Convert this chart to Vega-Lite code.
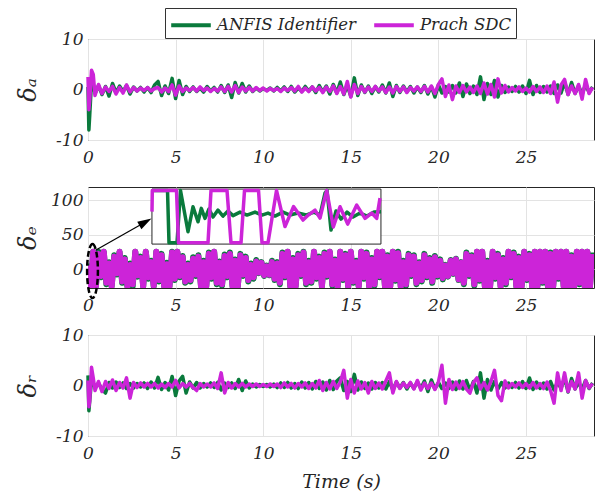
{
"$schema": "https://vega.github.io/schema/vega-lite/v6.json",
"background": "white",
"padding": {"left": 15, "top": 7, "right": 4, "bottom": 0},
"spacing": 47,
"bounds": "flush",
"datasets": {
"A": [
{"t":0,"g":0.5,"m":2.5},{"t":0.05,"g":-8,"m":-4},{"t":0.1,"g":-5,"m":-2},{"t":0.2,"g":1.5,"m":3.8},{"t":0.3,"g":1,"m":3},{"t":0.4,"g":-0.8,"m":-1.2},
{"t":0.6,"g":0.8,"m":1},{"t":0.8,"g":-1,"m":-0.8},{"t":1.0,"g":0.6,"m":0.5},{"t":1.2,"g":-1.3,"m":-0.4},{"t":1.4,"g":1.2,"m":0.6},{"t":1.6,"g":-0.6,"m":-0.9},{"t":1.8,"g":0.7,"m":0.4},{"t":2.0,"g":-0.4,"m":-0.7},{"t":2.2,"g":0.8,"m":0.9},{"t":2.4,"g":-0.9,"m":-0.5},
{"t":2.6,"g":0.5,"m":0.4},{"t":2.8,"g":-0.3,"m":-0.3},{"t":3.0,"g":0.4,"m":0.3},{"t":3.2,"g":-0.5,"m":-0.2},{"t":3.4,"g":0.4,"m":0.4},{"t":3.6,"g":-0.6,"m":-0.3},{"t":3.8,"g":0.9,"m":0.2},{"t":4.0,"g":1.6,"m":0.4},{"t":4.2,"g":-1.2,"m":-0.5},{"t":4.4,"g":0.7,"m":0.3},
{"t":4.6,"g":-0.8,"m":-0.4},{"t":4.8,"g":2.2,"m":0.9},{"t":5.0,"g":-1.8,"m":-1.1},{"t":5.2,"g":1.8,"m":0.7},{"t":5.4,"g":-1.0,"m":-0.4},{"t":5.6,"g":0.6,"m":0.3},{"t":5.8,"g":-0.4,"m":-0.2},{"t":6.0,"g":0.5,"m":0.4},{"t":6.2,"g":-0.4,"m":-0.3},{"t":6.4,"g":0.3,"m":0.5},
{"t":6.6,"g":-0.5,"m":-0.2},{"t":6.8,"g":0.6,"m":0.3},{"t":7.0,"g":-0.3,"m":-0.4},{"t":7.2,"g":0.4,"m":0.2},{"t":7.4,"g":-0.5,"m":-0.3},{"t":7.6,"g":0.8,"m":0.5},{"t":7.8,"g":-0.6,"m":-0.4},{"t":8.0,"g":0.9,"m":0.6},{"t":8.2,"g":-1.6,"m":-0.5},{"t":8.4,"g":1.4,"m":0.8},
{"t":8.6,"g":-0.7,"m":-0.6},{"t":8.8,"g":1.2,"m":0.5},{"t":9.0,"g":-0.5,"m":-0.3},{"t":9.2,"g":0.7,"m":0.4},{"t":9.4,"g":-0.4,"m":-0.3},{"t":9.6,"g":0.3,"m":0.4},{"t":9.8,"g":-0.3,"m":-0.2},{"t":10.0,"g":0.2,"m":0.3},{"t":10.2,"g":-0.2,"m":-0.3},{"t":10.4,"g":0.3,"m":0.2},
{"t":10.6,"g":-0.3,"m":-0.2},{"t":10.8,"g":0.4,"m":0.2},{"t":11.0,"g":-0.3,"m":-0.4},{"t":11.2,"g":0.5,"m":0.3},{"t":11.4,"g":-0.4,"m":-0.2},{"t":11.6,"g":0.6,"m":0.4},{"t":11.8,"g":-0.5,"m":-0.3},{"t":12.0,"g":0.3,"m":0.6},{"t":12.2,"g":-0.4,"m":-0.5},{"t":12.4,"g":0.6,"m":0.3},
{"t":12.6,"g":-0.3,"m":-0.4},{"t":12.8,"g":0.5,"m":0.5},{"t":13.0,"g":-0.6,"m":-0.3},{"t":13.2,"g":0.8,"m":0.4},{"t":13.4,"g":-0.5,"m":-0.6},{"t":13.6,"g":0.7,"m":0.5},{"t":13.8,"g":-0.9,"m":-0.4},{"t":14.0,"g":1.0,"m":0.7},{"t":14.2,"g":-0.7,"m":-0.8},{"t":14.4,"g":1.5,"m":0.6},
{"t":14.6,"g":-1.0,"m":-0.9},{"t":14.8,"g":0.8,"m":1.6},{"t":15.0,"g":-1.4,"m":-1.5},{"t":15.2,"g":2.3,"m":1.0},{"t":15.4,"g":-1.2,"m":-0.8},{"t":15.6,"g":0.9,"m":0.6},{"t":15.8,"g":-0.6,"m":-0.5},{"t":16.0,"g":0.7,"m":0.5},{"t":16.2,"g":-0.8,"m":-0.4},{"t":16.4,"g":0.6,"m":0.6},
{"t":16.6,"g":-0.5,"m":-0.3},{"t":16.8,"g":0.9,"m":0.5},{"t":17.0,"g":-0.7,"m":-0.6},{"t":17.2,"g":1.3,"m":0.5},{"t":17.4,"g":-1.4,"m":-0.7},{"t":17.6,"g":0.8,"m":0.6},{"t":17.8,"g":-0.6,"m":-0.4},{"t":18.0,"g":0.7,"m":0.5},{"t":18.2,"g":-0.5,"m":-0.6},{"t":18.4,"g":0.6,"m":0.4},
{"t":18.6,"g":-0.7,"m":-0.3},{"t":18.8,"g":0.5,"m":0.5},{"t":19.0,"g":-0.6,"m":-0.4},{"t":19.2,"g":0.8,"m":0.6},{"t":19.4,"g":-0.9,"m":-0.5},{"t":19.6,"g":0.6,"m":0.7},{"t":19.8,"g":-1.5,"m":-0.8},{"t":20.0,"g":0.9,"m":1.0},{"t":20.2,"g":-0.7,"m":2.1},{"t":20.4,"g":0.6,"m":-1.4},
{"t":20.6,"g":-0.5,"m":0.9},{"t":20.8,"g":0.8,"m":-2.0},{"t":21.0,"g":-0.7,"m":0.7},{"t":21.2,"g":1.3,"m":-0.6},{"t":21.4,"g":-1.4,"m":0.8},{"t":21.6,"g":1.1,"m":-0.5},{"t":21.8,"g":-0.8,"m":0.5},{"t":22.0,"g":0.7,"m":-0.6},{"t":22.2,"g":-1.0,"m":0.7},{"t":22.4,"g":2.5,"m":-0.8},
{"t":22.6,"g":-2.0,"m":1.3},{"t":22.8,"g":1.2,"m":-0.9},{"t":23.0,"g":-1.0,"m":1.0},{"t":23.2,"g":1.8,"m":-1.5},{"t":23.4,"g":-1.5,"m":2.1},{"t":23.6,"g":0.8,"m":-0.7},{"t":23.8,"g":-0.6,"m":0.8},{"t":24.0,"g":0.5,"m":-0.5},{"t":24.2,"g":-0.4,"m":0.4},{"t":24.4,"g":0.6,"m":-0.3},
{"t":24.6,"g":-0.5,"m":0.5},{"t":24.8,"g":0.7,"m":-0.4},{"t":25.0,"g":-0.8,"m":0.3},{"t":25.2,"g":1.8,"m":-0.5},{"t":25.4,"g":-1.0,"m":0.6},{"t":25.6,"g":0.8,"m":-0.4},{"t":25.8,"g":-0.6,"m":0.5},{"t":26.0,"g":0.6,"m":-0.6},{"t":26.2,"g":-0.5,"m":0.7},{"t":26.4,"g":0.7,"m":-0.8},
{"t":26.6,"g":-0.8,"m":1.5},{"t":26.8,"g":0.9,"m":-2.5},{"t":27.0,"g":-0.7,"m":0.9},{"t":27.2,"g":1.5,"m":2.0},{"t":27.4,"g":-1.0,"m":-1.0},{"t":27.6,"g":1.4,"m":0.7},{"t":27.8,"g":-0.8,"m":-0.8},{"t":28.0,"g":0.7,"m":1.0},{"t":28.2,"g":-0.9,"m":-1.9},{"t":28.4,"g":1.0,"m":2.0},
{"t":28.6,"g":-0.6,"m":-0.8},{"t":28.8,"g":0.5,"m":0.4}
],
"R": [
{"t":0,"g":2,"m":1},{"t":0.05,"g":-5,"m":-4.2},{"t":0.1,"g":-3,"m":-3},{"t":0.2,"g":1,"m":3.6},{"t":0.3,"g":0.5,"m":1.5},{"t":0.4,"g":-0.5,"m":-1},
{"t":0.6,"g":0.5,"m":0.8},{"t":0.8,"g":-0.8,"m":-1.2},{"t":1.0,"g":-1.5,"m":0.8},{"t":1.2,"g":0.6,"m":-0.6},{"t":1.4,"g":-0.5,"m":1.1},{"t":1.6,"g":0.7,"m":-1.0},{"t":1.8,"g":-0.4,"m":0.6},{"t":2.0,"g":0.5,"m":-0.5},{"t":2.2,"g":-0.6,"m":1.5},{"t":2.4,"g":0.4,"m":-2.5},
{"t":2.6,"g":-0.5,"m":0.6},{"t":2.8,"g":0.4,"m":-0.4},{"t":3.0,"g":-0.3,"m":0.5},{"t":3.2,"g":0.5,"m":-0.3},{"t":3.4,"g":-0.6,"m":0.4},{"t":3.6,"g":0.7,"m":-0.3},{"t":3.8,"g":-0.5,"m":0.4},{"t":4.0,"g":1.6,"m":-0.5},{"t":4.2,"g":-0.8,"m":0.3},{"t":4.4,"g":0.6,"m":-0.4},
{"t":4.6,"g":-0.9,"m":0.4},{"t":4.8,"g":1.8,"m":-0.3},{"t":5.0,"g":-2.0,"m":1.0},{"t":5.2,"g":0.9,"m":-0.5},{"t":5.4,"g":1.8,"m":0.4},{"t":5.6,"g":-1.5,"m":-0.3},{"t":5.8,"g":0.7,"m":0.4},{"t":6.0,"g":-0.5,"m":-0.4},{"t":6.2,"g":0.6,"m":-1.0},{"t":6.4,"g":-0.5,"m":0.4},
{"t":6.6,"g":0.4,"m":-0.3},{"t":6.8,"g":-0.3,"m":0.3},{"t":7.0,"g":0.5,"m":-0.3},{"t":7.2,"g":-0.4,"m":0.5},{"t":7.4,"g":0.6,"m":-0.6},{"t":7.6,"g":-0.9,"m":2.5},{"t":7.8,"g":0.5,"m":-1.5},{"t":8.0,"g":-0.4,"m":0.6},{"t":8.2,"g":0.5,"m":-0.5},{"t":8.4,"g":-0.6,"m":0.4},
{"t":8.6,"g":1.2,"m":-0.3},{"t":8.8,"g":-1.0,"m":0.4},{"t":9.0,"g":0.9,"m":-0.3},{"t":9.2,"g":-0.5,"m":0.3},{"t":9.4,"g":0.3,"m":-0.2},{"t":9.6,"g":-0.3,"m":0.3},{"t":9.8,"g":0.2,"m":-0.2},{"t":10.0,"g":-0.2,"m":0.2},{"t":10.2,"g":0.2,"m":-0.2},{"t":10.4,"g":-0.3,"m":0.3},
{"t":10.6,"g":0.3,"m":-0.2},{"t":10.8,"g":-0.4,"m":0.3},{"t":11.0,"g":0.5,"m":-0.4},{"t":11.2,"g":-0.4,"m":0.5},{"t":11.4,"g":0.6,"m":-0.3},{"t":11.6,"g":-0.5,"m":0.4},{"t":11.8,"g":0.4,"m":-0.5},{"t":12.0,"g":-0.6,"m":0.4},{"t":12.2,"g":0.7,"m":-0.3},{"t":12.4,"g":-0.5,"m":0.5},
{"t":12.6,"g":0.6,"m":-0.6},{"t":12.8,"g":-0.7,"m":0.4},{"t":13.0,"g":0.8,"m":-0.5},{"t":13.2,"g":-0.6,"m":1.0},{"t":13.4,"g":0.7,"m":-1.0},{"t":13.6,"g":-0.9,"m":0.6},{"t":13.8,"g":1.0,"m":-0.7},{"t":14.0,"g":-0.8,"m":0.8},{"t":14.2,"g":0.9,"m":-0.6},{"t":14.4,"g":1.5,"m":0.7},
{"t":14.6,"g":-1.0,"m":3.0},{"t":14.8,"g":0.8,"m":-2.5},{"t":15.0,"g":-1.2,"m":1.2},{"t":15.2,"g":2.2,"m":-1.5},{"t":15.4,"g":-0.9,"m":0.9},{"t":15.6,"g":0.7,"m":-0.7},{"t":15.8,"g":-0.6,"m":0.6},{"t":16.0,"g":0.5,"m":-1.5},{"t":16.2,"g":-0.7,"m":0.8},{"t":16.4,"g":0.6,"m":-0.6},
{"t":16.6,"g":-0.5,"m":0.5},{"t":16.8,"g":0.6,"m":-0.7},{"t":17.0,"g":-0.7,"m":0.9},{"t":17.2,"g":0.8,"m":2.5},{"t":17.4,"g":-0.9,"m":-1.5},{"t":17.6,"g":0.7,"m":0.8},{"t":17.8,"g":-0.5,"m":-0.6},{"t":18.0,"g":0.6,"m":0.5},{"t":18.2,"g":-0.7,"m":-0.4},{"t":18.4,"g":0.5,"m":0.6},
{"t":18.6,"g":-0.6,"m":-0.7},{"t":18.8,"g":0.8,"m":1.0},{"t":19.0,"g":-0.6,"m":-0.9},{"t":19.2,"g":0.9,"m":0.5},{"t":19.4,"g":-1.2,"m":-0.6},{"t":19.6,"g":1.1,"m":0.5},{"t":19.8,"g":-0.7,"m":-0.8},{"t":20.0,"g":0.6,"m":0.7},{"t":20.2,"g":-0.6,"m":4.0},{"t":20.4,"g":0.5,"m":-3.5},
{"t":20.6,"g":-0.6,"m":1.2},{"t":20.8,"g":0.7,"m":-0.8},{"t":21.0,"g":-0.8,"m":0.7},{"t":21.2,"g":0.9,"m":-0.6},{"t":21.4,"g":-0.7,"m":0.8},{"t":21.6,"g":1.0,"m":-0.7},{"t":21.8,"g":-1.0,"m":-1.5},{"t":22.0,"g":0.8,"m":0.6},{"t":22.2,"g":-1.5,"m":1.5},{"t":22.4,"g":2.5,"m":-0.7},
{"t":22.6,"g":-2.5,"m":0.6},{"t":22.8,"g":1.2,"m":-0.9},{"t":23.0,"g":-0.9,"m":0.8},{"t":23.2,"g":0.8,"m":3.0},{"t":23.4,"g":-0.7,"m":-2.0},{"t":23.6,"g":0.6,"m":-3.0},{"t":23.8,"g":-0.5,"m":0.9},{"t":24.0,"g":0.5,"m":-0.5},{"t":24.2,"g":-0.4,"m":0.4},{"t":24.4,"g":0.6,"m":-0.3},
{"t":24.6,"g":-0.5,"m":0.5},{"t":24.8,"g":0.8,"m":-0.4},{"t":25.0,"g":-0.6,"m":0.4},{"t":25.2,"g":1.5,"m":-0.5},{"t":25.4,"g":-0.8,"m":0.6},{"t":25.6,"g":0.7,"m":-0.5},{"t":25.8,"g":-0.6,"m":0.4},{"t":26.0,"g":0.5,"m":-0.6},{"t":26.2,"g":-0.7,"m":0.7},{"t":26.4,"g":0.8,"m":-1.0},
{"t":26.6,"g":-0.9,"m":-3.5},{"t":26.8,"g":0.7,"m":2.5},{"t":27.0,"g":-0.6,"m":-1.0},{"t":27.2,"g":1.5,"m":2.5},{"t":27.4,"g":-1.3,"m":-1.2},{"t":27.6,"g":1.4,"m":0.8},{"t":27.8,"g":-0.7,"m":-0.7},{"t":28.0,"g":0.6,"m":2.5},{"t":28.2,"g":-0.8,"m":-2.5},{"t":28.4,"g":1.0,"m":1.0},
{"t":28.6,"g":-0.6,"m":-0.5},{"t":28.8,"g":0.5,"m":0.4}
],
"E": [
{"t":0,"g":8,"m":5},{"t":0.15,"g":-25,"m":-25},{"t":0.3,"g":25,"m":25},{"t":0.45,"g":-25,"m":-25},{"t":0.6,"g":25,"m":22},{"t":0.75,"g":-12,"m":-10},{"t":0.9,"g":25,"m":25},{"t":1.05,"g":-22,"m":-20},{"t":1.2,"g":10,"m":8},{"t":1.35,"g":-25,"m":-25},
{"t":1.5,"g":20,"m":18},{"t":1.65,"g":-8,"m":-6},{"t":1.8,"g":25,"m":25},{"t":1.95,"g":-20,"m":-18},{"t":2.1,"g":16,"m":14},{"t":2.25,"g":-25,"m":-25},{"t":2.4,"g":8,"m":6},{"t":2.55,"g":-25,"m":-22},{"t":2.7,"g":25,"m":25},{"t":2.85,"g":-11,"m":-9},
{"t":3,"g":18,"m":16},{"t":3.15,"g":-25,"m":-25},{"t":3.3,"g":25,"m":25},{"t":3.45,"g":-14,"m":-12},{"t":3.6,"g":12,"m":10},{"t":3.75,"g":-25,"m":-24},{"t":3.9,"g":25,"m":25},{"t":4.05,"g":-18,"m":-16},{"t":4.2,"g":22,"m":20},{"t":4.35,"g":-25,"m":-25},
{"t":4.5,"g":9,"m":7},{"t":4.65,"g":-25,"m":-25},{"t":4.8,"g":25,"m":24},{"t":4.95,"g":-16,"m":-14},{"t":5.1,"g":25,"m":25},{"t":5.25,"g":-12,"m":-10},{"t":5.4,"g":19,"m":17},{"t":5.55,"g":-20,"m":-18},{"t":5.7,"g":8,"m":6},{"t":5.85,"g":-18,"m":-16},
{"t":6,"g":17,"m":15},{"t":6.15,"g":-10,"m":-8},{"t":6.3,"g":20,"m":18},{"t":6.45,"g":-25,"m":-25},{"t":6.6,"g":12,"m":10},{"t":6.75,"g":-25,"m":-25},{"t":6.9,"g":24,"m":22},{"t":7.05,"g":-14,"m":-12},{"t":7.2,"g":25,"m":25},{"t":7.35,"g":-22,"m":-20},
{"t":7.5,"g":11,"m":9},{"t":7.65,"g":-24,"m":-22},{"t":7.8,"g":21,"m":19},{"t":7.95,"g":-12,"m":-10},{"t":8.1,"g":24,"m":22},{"t":8.25,"g":-25,"m":-25},{"t":8.4,"g":14,"m":12},{"t":8.55,"g":-25,"m":-25},{"t":8.7,"g":22,"m":20},{"t":8.85,"g":-10,"m":-8},
{"t":9,"g":18,"m":16},{"t":9.15,"g":-18,"m":-16},{"t":9.3,"g":8,"m":6},{"t":9.45,"g":-14,"m":-12},{"t":9.6,"g":13,"m":11},{"t":9.75,"g":-6,"m":-5},{"t":9.9,"g":10,"m":9},{"t":10.05,"g":-10,"m":-9},{"t":10.2,"g":5,"m":4},{"t":10.35,"g":-9,"m":-8},
{"t":10.5,"g":12,"m":10},{"t":10.65,"g":-16,"m":-14},{"t":10.8,"g":10,"m":8},{"t":10.95,"g":-22,"m":-20},{"t":11.1,"g":24,"m":22},{"t":11.25,"g":-12,"m":-10},{"t":11.4,"g":25,"m":25},{"t":11.55,"g":-25,"m":-25},{"t":11.7,"g":16,"m":14},{"t":11.85,"g":-25,"m":-25},
{"t":12,"g":22,"m":20},{"t":12.15,"g":-10,"m":-8},{"t":12.3,"g":25,"m":24},{"t":12.45,"g":-22,"m":-20},{"t":12.6,"g":12,"m":10},{"t":12.75,"g":-20,"m":-18},{"t":12.9,"g":25,"m":25},{"t":13.05,"g":-14,"m":-12},{"t":13.2,"g":18,"m":16},{"t":13.35,"g":-25,"m":-25},
{"t":13.5,"g":24,"m":22},{"t":13.65,"g":-11,"m":-9},{"t":13.8,"g":25,"m":25},{"t":13.95,"g":-24,"m":-22},{"t":14.1,"g":14,"m":12},{"t":14.25,"g":-25,"m":-25},{"t":14.4,"g":25,"m":25},{"t":14.55,"g":-16,"m":-14},{"t":14.7,"g":22,"m":20},{"t":14.85,"g":-25,"m":-25},
{"t":15,"g":25,"m":25},{"t":15.15,"g":-20,"m":-18},{"t":15.3,"g":12,"m":10},{"t":15.45,"g":-25,"m":-25},{"t":15.6,"g":25,"m":25},{"t":15.75,"g":-14,"m":-12},{"t":15.9,"g":24,"m":22},{"t":16.05,"g":-25,"m":-25},{"t":16.2,"g":16,"m":14},{"t":16.35,"g":-24,"m":-22},
{"t":16.5,"g":25,"m":25},{"t":16.65,"g":-12,"m":-10},{"t":16.8,"g":25,"m":25},{"t":16.95,"g":-25,"m":-25},{"t":17.1,"g":20,"m":18},{"t":17.25,"g":-25,"m":-25},{"t":17.4,"g":25,"m":25},{"t":17.55,"g":-17,"m":-15},{"t":17.7,"g":25,"m":23},{"t":17.85,"g":-25,"m":-25},
{"t":18,"g":12,"m":10},{"t":18.15,"g":-24,"m":-22},{"t":18.3,"g":22,"m":20},{"t":18.45,"g":-10,"m":-8},{"t":18.6,"g":20,"m":18},{"t":18.75,"g":-22,"m":-20},{"t":18.9,"g":10,"m":8},{"t":19.05,"g":-18,"m":-16},{"t":19.2,"g":22,"m":20},{"t":19.35,"g":-12,"m":-10},
{"t":19.5,"g":16,"m":14},{"t":19.65,"g":-20,"m":-18},{"t":19.8,"g":19,"m":17},{"t":19.95,"g":-11,"m":-9},{"t":20.1,"g":14,"m":12},{"t":20.25,"g":-15,"m":-13},{"t":20.4,"g":6,"m":5},{"t":20.55,"g":-11,"m":-10},{"t":20.7,"g":13,"m":12},{"t":20.85,"g":-7,"m":-6},
{"t":21,"g":15,"m":14},{"t":21.15,"g":-16,"m":-15},{"t":21.3,"g":10,"m":9},{"t":21.45,"g":-22,"m":-20},{"t":21.6,"g":24,"m":22},{"t":21.75,"g":-10,"m":-8},{"t":21.9,"g":20,"m":18},{"t":22.05,"g":-24,"m":-22},{"t":22.2,"g":25,"m":25},{"t":22.35,"g":-17,"m":-15},
{"t":22.5,"g":25,"m":25},{"t":22.65,"g":-25,"m":-25},{"t":22.8,"g":12,"m":10},{"t":22.95,"g":-25,"m":-25},{"t":23.1,"g":25,"m":25},{"t":23.25,"g":-14,"m":-12},{"t":23.4,"g":22,"m":20},{"t":23.55,"g":-25,"m":-25},{"t":23.7,"g":16,"m":14},{"t":23.85,"g":-22,"m":-20},
{"t":24,"g":25,"m":25},{"t":24.15,"g":-12,"m":-10},{"t":24.3,"g":24,"m":22},{"t":24.45,"g":-25,"m":-25},{"t":24.6,"g":18,"m":16},{"t":24.75,"g":-25,"m":-25},{"t":24.9,"g":25,"m":25},{"t":25.05,"g":-16,"m":-14},{"t":25.2,"g":22,"m":20},{"t":25.35,"g":-25,"m":-25},
{"t":25.5,"g":25,"m":25},{"t":25.65,"g":-25,"m":-25},{"t":25.8,"g":25,"m":25},{"t":25.95,"g":-20,"m":-18},{"t":26.1,"g":25,"m":25},{"t":26.25,"g":-25,"m":-25},{"t":26.4,"g":24,"m":22},{"t":26.55,"g":-25,"m":-25},{"t":26.7,"g":25,"m":25},{"t":26.85,"g":-14,"m":-12},
{"t":27,"g":25,"m":25},{"t":27.15,"g":-25,"m":-25},{"t":27.3,"g":25,"m":25},{"t":27.45,"g":-25,"m":-25},{"t":27.6,"g":20,"m":18},{"t":27.75,"g":-25,"m":-25},{"t":27.9,"g":25,"m":25},{"t":28.05,"g":-22,"m":-20},{"t":28.2,"g":25,"m":25},{"t":28.35,"g":-25,"m":-25},
{"t":28.5,"g":25,"m":25},{"t":28.65,"g":-25,"m":-25},{"t":28.8,"g":24,"m":22}
],
"I": [
{"s":"g","t":3.653,"v":114},{"s":"g","t":4.538,"v":114},{"s":"g","t":4.623,"v":38},{"s":"g","t":5.08,"v":38},{"s":"g","t":5.28,"v":114},{"s":"g","t":5.708,"v":54.1},{"s":"g","t":5.993,"v":90.3},{"s":"g","t":6.279,"v":68.6},{"s":"g","t":6.467,"v":88.0},{"s":"g","t":6.678,"v":73.5},
{"s":"g","t":6.906,"v":87.0},{"s":"g","t":7.135,"v":75.4},{"s":"g","t":7.42,"v":85.5},{"s":"g","t":7.705,"v":76.8},{"s":"g","t":7.991,"v":84.1},{"s":"g","t":8.276,"v":77.5},{"s":"g","t":8.676,"v":82.6},{"s":"g","t":9.075,"v":78.3},{"s":"g","t":9.532,"v":82.6},{"s":"g","t":9.932,"v":78.3},
{"s":"g","t":10.274,"v":81.2},{"s":"g","t":10.674,"v":76.8},{"s":"g","t":11.13,"v":82.6},{"s":"g","t":11.53,"v":78.3},{"s":"g","t":11.986,"v":81.2},{"s":"g","t":12.443,"v":78.3},{"s":"g","t":12.9,"v":82.6},{"s":"g","t":13.242,"v":78.3},{"s":"g","t":13.527,"v":110.1},{"s":"g","t":13.642,"v":114},
{"s":"g","t":13.87,"v":56.5},{"s":"g","t":14.155,"v":84.1},{"s":"g","t":14.441,"v":72.5},{"s":"g","t":14.783,"v":82.6},{"s":"g","t":15.125,"v":75.4},{"s":"g","t":15.525,"v":81.2},{"s":"g","t":15.925,"v":76.8},{"s":"g","t":16.324,"v":82.6},{"s":"g","t":16.724,"v":83.0},
{"s":"m","t":3.653,"v":83.3},{"s":"m","t":3.67,"v":114},{"s":"m","t":5.051,"v":114},{"s":"m","t":5.166,"v":38},{"s":"m","t":6.849,"v":38},{"s":"m","t":7.021,"v":114},{"s":"m","t":7.934,"v":114},{"s":"m","t":8.162,"v":38},{"s":"m","t":8.733,"v":38},{"s":"m","t":8.933,"v":114},
{"s":"m","t":9.732,"v":114},{"s":"m","t":9.932,"v":38},{"s":"m","t":10.274,"v":38},{"s":"m","t":10.759,"v":114},{"s":"m","t":11.244,"v":61.6},{"s":"m","t":11.729,"v":90.6},{"s":"m","t":12.272,"v":71.0},{"s":"m","t":12.574,"v":78.3},{"s":"m","t":12.957,"v":85.5},{"s":"m","t":13.242,"v":73.9},
{"s":"m","t":13.624,"v":114},{"s":"m","t":14.001,"v":60.9},{"s":"m","t":14.384,"v":90.3},{"s":"m","t":14.823,"v":65.2},{"s":"m","t":15.337,"v":92.8},{"s":"m","t":15.811,"v":73.5},{"s":"m","t":16.193,"v":81.2},{"s":"m","t":16.478,"v":73.5},{"s":"m","t":16.667,"v":102.9}
]
},
"vconcat": [
{
"width": 506, "height": 101,
"data": {"name": "A"},
"transform": [{"fold": ["g", "m"], "as": ["s", "v"]}],
"mark": {"type": "line", "strokeWidth": 3.5, "strokeJoin": "round"},
"encoding": {
"x": {"field": "t", "type": "quantitative", "scale": {"domain": [0, 28.88], "nice": false, "zero": false}, "axis": {"values": [0, 5, 10, 15, 20, 25], "title": null}},
"y": {"field": "v", "type": "quantitative", "scale": {"domain": [-10, 10], "nice": false}, "axis": {"values": [-10, 0, 10], "title": "δₐ", "titleX": -60, "titleY": 50.5, "titleAngle": 270, "titleAlign": "center", "titleBaseline": "middle", "titleFontSize": 24, "labelExpr": "'' + datum.value"}},
"color": {"field": "s", "type": "nominal", "scale": {"domain": ["g", "m"], "range": ["#0a7a3c", "#cc24d8"]}, "legend": {"title": null, "orient": "none", "legendX": 77, "legendY": -31, "direction": "horizontal", "symbolType": "M-1.8,0L1.8,0", "symbolStrokeWidth": 4, "symbolSize": 484, "symbolOffset": 9, "labelFont": "DejaVu Serif", "labelFontStyle": "italic", "labelFontSize": 16.5, "labelColor": "#262626", "strokeColor": "#333333", "fillColor": "white", "padding": 4, "columnPadding": 10, "labelOffset": 13, "labelExpr": "datum.label == 'g' ? 'ANFIS Identifier' : 'Prach SDC'"}}
}
},
{
"width": 506, "height": 101,
"layer": [
{
"data": {"name": "E"},
"transform": [{"fold": ["g", "m"], "as": ["s", "v"]}],
"mark": {"type": "line", "strokeWidth": 6, "strokeJoin": "round", "clip": true},
"encoding": {
"x": {"field": "t", "type": "quantitative", "scale": {"domain": [0, 28.88], "nice": false, "zero": false}, "axis": {"values": [0, 5, 10, 15, 20, 25], "title": null}},
"y": {"field": "v", "type": "quantitative", "scale": {"domain": [-27.5, 119], "nice": false}, "axis": {"values": [0, 50, 100], "title": "δₑ", "titleX": -60, "titleY": 50.5, "titleAngle": 270, "titleAlign": "center", "titleBaseline": "middle", "titleFontSize": 24, "labelExpr": "'' + datum.value"}},
"color": {"field": "s", "type": "nominal", "scale": {"domain": ["g", "m"], "range": ["#0a7a3c", "#cc24d8"]}, "legend": {"title": null, "orient": "none", "legendX": 77, "legendY": -31, "direction": "horizontal", "symbolType": "M-1.8,0L1.8,0", "symbolStrokeWidth": 4, "symbolSize": 484, "symbolOffset": 9, "labelFont": "DejaVu Serif", "labelFontStyle": "italic", "labelFontSize": 16.5, "labelColor": "#262626", "strokeColor": "#333333", "fillColor": "white", "padding": 4, "columnPadding": 10, "labelOffset": 13, "labelExpr": "datum.label == 'g' ? 'ANFIS Identifier' : 'Prach SDC'"}}
}
},
{
"data": {"values": [{}]},
"mark": {"type": "rect", "fill": "white", "stroke": "#262626", "strokeWidth": 1},
"encoding": {"x": {"datum": 3.65, "type": "quantitative"}, "x2": {"datum": 16.72}, "y": {"datum": 36.2, "type": "quantitative"}, "y2": {"datum": 116}}
},
{
"data": {"name": "I"},
"mark": {"type": "line", "strokeWidth": 3.5, "strokeJoin": "round"},
"encoding": {
"x": {"field": "t", "type": "quantitative"},
"y": {"field": "v", "type": "quantitative"},
"color": {"field": "s", "type": "nominal"}
}
},
{
"data": {"values": [{}]},
"mark": {"type": "point", "shape": "M0,-1C0.11,-1 0.2,-0.55 0.2,0C0.2,0.55 0.11,1 0,1C-0.11,1 -0.2,0.55 -0.2,0C-0.2,-0.55 -0.11,-1 0,-1Z", "size": 2916, "filled": false, "stroke": "black", "strokeWidth": 2.5, "strokeDash": [6, 3], "opacity": 1},
"encoding": {"x": {"datum": 0.257, "type": "quantitative"}, "y": {"datum": -2.9, "type": "quantitative"}}
},
{
"data": {"values": [{}]},
"mark": {"type": "rule", "stroke": "black", "strokeWidth": 1.2},
"encoding": {"x": {"datum": 0.457, "type": "quantitative"}, "y": {"datum": 27.5, "type": "quantitative"}, "x2": {"datum": 3.276}, "y2": {"datum": 68.2}}
},
{
"data": {"values": [{}]},
"mark": {"type": "point", "shape": "M1,0L-1,-0.6L-1,0.6Z", "size": 196, "filled": true, "fill": "black", "strokeWidth": 0, "angle": -29.6, "opacity": 1},
"encoding": {"x": {"datum": 3.276, "type": "quantitative"}, "y": {"datum": 68.2, "type": "quantitative"}}
}
]
},
{
"width": 506, "height": 101,
"data": {"name": "R"},
"transform": [{"fold": ["g", "m"], "as": ["s", "v"]}],
"mark": {"type": "line", "strokeWidth": 3.5, "strokeJoin": "round"},
"encoding": {
"x": {"field": "t", "type": "quantitative", "scale": {"domain": [0, 28.88], "nice": false, "zero": false}, "axis": {"values": [0, 5, 10, 15, 20, 25], "title": "Time (s)", "titleFontSize": 19, "titlePadding": 11}},
"y": {"field": "v", "type": "quantitative", "scale": {"domain": [-10, 10], "nice": false}, "axis": {"values": [-10, 0, 10], "title": "δᵣ", "titleX": -60, "titleY": 50.5, "titleAngle": 270, "titleAlign": "center", "titleBaseline": "middle", "titleFontSize": 24, "labelExpr": "'' + datum.value"}},
"color": {"field": "s", "type": "nominal", "scale": {"domain": ["g", "m"], "range": ["#0a7a3c", "#cc24d8"]}, "legend": {"title": null, "orient": "none", "legendX": 77, "legendY": -31, "direction": "horizontal", "symbolType": "M-1.8,0L1.8,0", "symbolStrokeWidth": 4, "symbolSize": 484, "symbolOffset": 9, "labelFont": "DejaVu Serif", "labelFontStyle": "italic", "labelFontSize": 16.5, "labelColor": "#262626", "strokeColor": "#333333", "fillColor": "white", "padding": 4, "columnPadding": 10, "labelOffset": 13, "labelExpr": "datum.label == 'g' ? 'ANFIS Identifier' : 'Prach SDC'"}}
}
}
],
"config": {
"font": "DejaVu Serif",
"view": {"stroke": "#262626", "strokeWidth": 1},
"axis": {"labelFont": "DejaVu Serif", "labelFontStyle": "italic", "labelFontSize": 17, "labelColor": "#262626", "titleFont": "DejaVu Serif", "titleFontStyle": "italic", "titleFontWeight": "normal", "titleColor": "#262626", "grid": true, "gridColor": "#e3e3e3", "domain": false, "tickColor": "#262626", "tickSize": -5, "tickWidth": 1, "tickOpacity": 0},
"axisX": {"labelPadding": 14, "labelFlush": false},
"axisY": {"labelPadding": 10}
}
}
